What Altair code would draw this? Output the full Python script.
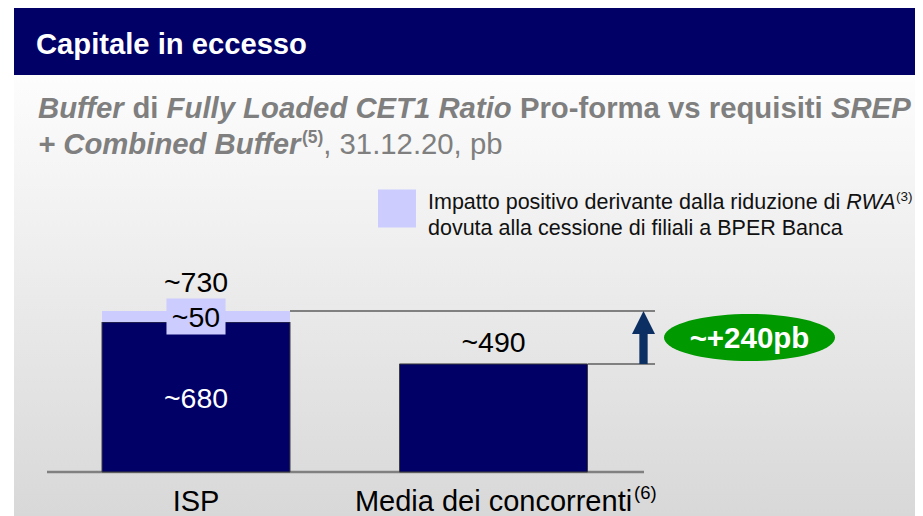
import altair as alt
import pandas as pd
import numpy as np

# ---------------- data ----------------
categories = ["ISP", "Media dei concorrenti"]
base_values = [680, 490]          # CET1 buffer before RWA impact (pb)
rwa_impact = [50, 0]              # positive impact from RWA reduction (pb)
totals = [b + r for b, r in zip(base_values, rwa_impact)]   # ~730, ~490
excess = totals[0] - totals[1]    # ~+240 pb

title_text = "Capitale in eccesso"
legend_line1 = "Impatto positivo derivante dalla riduzione di"
legend_rwa = "RWA"
legend_sup = "(3)"
legend_line2 = "dovuta alla cessione di filiali a BPER Banca"
cat_sup = "(6)"

# ---------------- style ----------------
FONT = "Liberation Sans"
NAVY = "#000066"
LAV = "#ccccff"
GREEN = "#009900"
ARROW = "#0b2f62"
GREY_TXT = "#7f7f7f"
LINE = "#808080"

W, H = 907, 508
xs = alt.Scale(domain=categories, range=[39.25, 634.25], paddingInner=0, paddingOuter=0)
ys = alt.Scale(domain=[0, 1000], range=[464, 243.5])

one = pd.DataFrame({"k": [0]})


def txt(text, x, y, size, color="black", weight="normal", style="normal", align="left", baseline="alphabetic"):
    return alt.Chart(one).mark_text(
        text=text, font=FONT, fontSize=size, color=color, fontWeight=weight,
        fontStyle=style, align=align, baseline=baseline
    ).encode(x=alt.value(x), y=alt.value(y))


def Yq(field):
    return alt.Y(field, type="quantitative", scale=ys, axis=None)


# background panel & title bar
grad = alt.LinearGradient(
    gradient="linear",
    stops=[alt.GradientStop(color="#fdfdfd", offset=0), alt.GradientStop(color="#d8d8d8", offset=1)],
    x1=0, x2=0, y1=0, y2=1,
)
bg = alt.Chart(one).mark_rect(fill=grad).encode(
    x=alt.value(6), x2=alt.value(W), y=alt.value(67), y2=alt.value(H))
titlebar = alt.Chart(one).mark_rect(fill=NAVY).encode(
    x=alt.value(6), x2=alt.value(W), y=alt.value(-2), y2=alt.value(67))
title = txt(title_text, 28, 45.5, 29.2, color="white", weight="bold")

# subtitle (mixed styles); em widths of bold Arial segments
SFS = 29.3
s0 = 30
s_di = s0 + 3.222 * SFS
s_fully = s_di + 1.167 * SFS
s_pro = s_fully + 12.058 * SFS
s_srep = s_pro + 10.614 * SFS
s_sup5 = s0 + 8.973 * SFS + 1
s_rest = s_sup5 + 1.222 * 17.5
sub = [
    txt("Buffer", s0, 110, SFS, GREY_TXT, "bold", "italic"),
    txt("di", s_di, 110, SFS, GREY_TXT, "bold"),
    txt("Fully Loaded CET1 Ratio", s_fully, 110, SFS, GREY_TXT, "bold", "italic"),
    txt("Pro-forma vs requisiti", s_pro, 110, SFS, GREY_TXT, "bold"),
    txt("SREP", s_srep, 110, SFS, GREY_TXT, "bold", "italic"),
    txt("+ Combined Buffer", s0, 146, SFS, GREY_TXT, "bold", "italic"),
    txt("(5)", s_sup5, 135, 17.5, GREY_TXT, "bold"),
    txt(", 31.12.20, pb", s_rest, 146, SFS, GREY_TXT),
]

# legend
LFS = 21.5
l0 = 420
l_rwa = l0 + 19.453 * LFS
l_sup = l_rwa + 2.333 * LFS - 0.5
leg_sq = alt.Chart(one).mark_point(shape="square", size=1444, filled=True, color=LAV, opacity=1).encode(
    x=alt.value(389), y=alt.value(200.5))
leg = [
    leg_sq,
    txt(legend_line1, l0, 200.7, LFS, "#111111"),
    txt(legend_rwa, l_rwa, 200.7, LFS, "#111111", style="italic"),
    txt(legend_sup, l_sup, 192.5, 13.5, "#111111"),
    txt(legend_line2, l0, 226.7, LFS, "#111111"),
]

# bars
bars_df = pd.DataFrame({"cat": categories, "start": [0, 0], "end": base_values})
rwa_df = pd.DataFrame({
    "cat": [c for c, r in zip(categories, rwa_impact) if r > 0],
    "start": [b for b, r in zip(base_values, rwa_impact) if r > 0],
    "end": [t for t, r in zip(totals, rwa_impact) if r > 0],
    "lab": ["~" + str(r) for r in rwa_impact if r > 0],
})
rwa_df["mid"] = (rwa_df["start"] + rwa_df["end"]) / 2
inner_df = pd.DataFrame({
    "cat": [c for c, r in zip(categories, rwa_impact) if r > 0],
    "mid": [b / 2 for b, r in zip(base_values, rwa_impact) if r > 0],
    "lab": ["~" + str(b) for b, r in zip(base_values, rwa_impact) if r > 0],
})
tot_a = pd.DataFrame({"cat": [c for c, r in zip(categories, rwa_impact) if r > 0],
                      "total": [t for t, r in zip(totals, rwa_impact) if r > 0],
                      "lab": ["~" + str(t) for t, r in zip(totals, rwa_impact) if r > 0]})
tot_b = pd.DataFrame({"cat": [c for c, r in zip(categories, rwa_impact) if r == 0],
                      "total": [t for t, r in zip(totals, rwa_impact) if r == 0],
                      "lab": ["~" + str(t) for t, r in zip(totals, rwa_impact) if r == 0]})
cat_df = pd.DataFrame({"cat": categories})
sup_df = pd.DataFrame({"cat": [categories[1]]})

X = alt.X("cat:N", scale=xs, axis=None)
VFS = 28.5

base_bars = alt.Chart(bars_df).mark_bar(width=188, color=NAVY, stroke="#3c3c3c", strokeWidth=1).encode(
    x=X, y=Yq("start"), y2="end:Q")
rwa_bars = alt.Chart(rwa_df).mark_bar(width=188, color=LAV).encode(
    x=X, y=Yq("start"), y2="end:Q")
rwa_box = alt.Chart(rwa_df).mark_point(
    shape="M-1.64,-1L1.64,-1L1.64,1L-1.64,1Z", size=1296, filled=True, color=LAV, opacity=1
).encode(x=X, y=Yq("mid"))
rwa_lab = alt.Chart(rwa_df).mark_text(font=FONT, fontSize=VFS, color="black", baseline="alphabetic", dy=10).encode(
    x=X, y=Yq("mid"), text="lab:N")
inner_lab = alt.Chart(inner_df).mark_text(font=FONT, fontSize=VFS, color="white", baseline="alphabetic", dy=11.3).encode(
    x=X, y=Yq("mid"), text="lab:N")
tot_lab_a = alt.Chart(tot_a).mark_text(font=FONT, fontSize=VFS, color="black", baseline="alphabetic", dy=-19.3).encode(
    x=X, y=Yq("total"), text="lab:N")
tot_lab_b = alt.Chart(tot_b).mark_text(font=FONT, fontSize=VFS, color="black", baseline="alphabetic", dy=-11.7).encode(
    x=X, y=Yq("total"), text="lab:N")

CFS = 29
cat_lab = alt.Chart(cat_df).mark_text(font=FONT, fontSize=CFS, color="black", baseline="alphabetic").encode(
    x=X, y=alt.value(502.5), text="cat:N")
cat_sup_lab = alt.Chart(sup_df).mark_text(
    text=cat_sup, font=FONT, fontSize=18.5, color="black", align="left", baseline="alphabetic",
    dx=9.559 * CFS / 2 + 2).encode(
    x=X, y=alt.value(491))

# rules
zero_df = pd.DataFrame({"v": [0]})
top_df = pd.DataFrame({"v": [totals[0]]})
mid_df = pd.DataFrame({"v": [totals[1]]})
arrow_df = pd.DataFrame({"lo": [totals[1]], "hi": [totals[0]]})
ell_df = pd.DataFrame({"v": [(totals[0] + totals[1]) / 2], "lab": ["~+" + str(excess) + "pb"]})

baseline = alt.Chart(zero_df).mark_rule(color=LINE, strokeWidth=2.5).encode(
    x=alt.value(39), x2=alt.value(636), y=Yq("v"))
top_line = alt.Chart(top_df).mark_rule(color=LINE, strokeWidth=2).encode(
    x=alt.value(282), x2=alt.value(647), y=Yq("v"))
mid_line = alt.Chart(mid_df).mark_rule(color=LINE, strokeWidth=2).encode(
    x=alt.value(580), x2=alt.value(647), y=Yq("v"))

# arrow
shaft = alt.Chart(arrow_df).mark_rule(color=ARROW, strokeWidth=8.3, y2Offset=15).encode(
    x=alt.value(635.5), y=Yq("lo"), y2="hi:Q")
head = alt.Chart(arrow_df).mark_point(
    shape="M0,-1L1,1L-1,1Z", size=529, filled=True, color=ARROW, opacity=1, yOffset=11.5
).encode(x=alt.value(635.5), y=Yq("hi"))

# green ellipse with delta
ang = np.linspace(0, 2 * np.pi, 72, endpoint=False)
ry = 47 / 171
ell_path = "M" + "L".join(f"{np.cos(a):.4f},{ry * np.sin(a):.4f}" for a in ang) + "Z"
ellipse = alt.Chart(ell_df).mark_point(
    shape=ell_path, size=171 ** 2, filled=True, color=GREEN, opacity=1
).encode(x=alt.value(741.5), y=Yq("v"))
delta_lab = alt.Chart(ell_df).mark_text(
    font=FONT, fontSize=29.5, fontWeight="bold", color="white", baseline="middle", dy=1.5
).encode(x=alt.value(741.5), y=Yq("v"), text="lab:N")

chart = alt.layer(
    bg, titlebar, title, *sub, *leg,
    baseline, top_line, mid_line,
    base_bars, rwa_bars, rwa_box, rwa_lab, inner_lab, tot_lab_a, tot_lab_b,
    cat_lab, cat_sup_lab,
    shaft, head, ellipse, delta_lab,
).properties(
    width=W, height=H, padding=0, autosize=alt.AutoSizeParams(type="none"), background="white"
).configure_view(stroke=None)

chart.save("out.html", embed_options={"renderer": "svg", "actions": False})
